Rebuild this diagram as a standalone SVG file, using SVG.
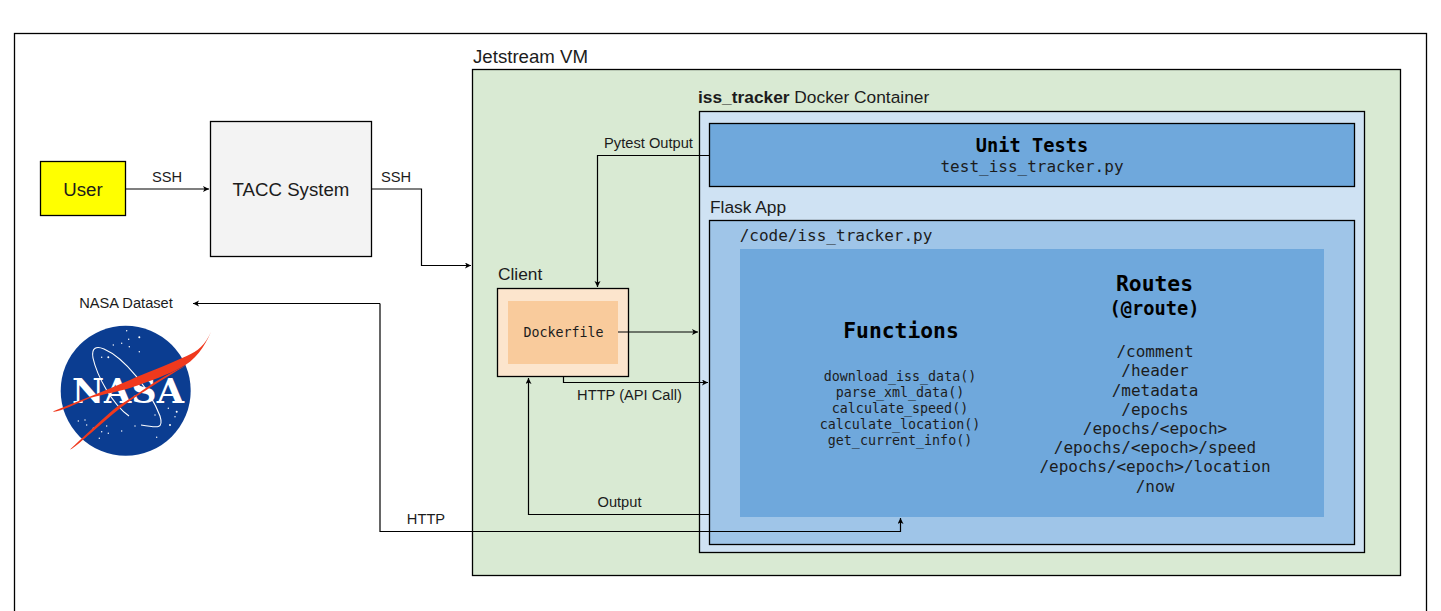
<svg xmlns="http://www.w3.org/2000/svg" width="1441" height="611" viewBox="0 0 1441 611">
<style>
.s{stroke:#000;stroke-width:1.3}
.l{font-family:"Liberation Sans",Arial,sans-serif;fill:#1c1c1c}
.m{font-family:"DejaVu Sans Mono","Liberation Mono",monospace;fill:#1c1c1c;text-anchor:middle}
.b{font-weight:bold;fill:#000}
.c{fill:none;stroke:#000;stroke-width:1.2}
</style>
<defs>
<marker id="a" markerWidth="8" markerHeight="8" refX="6" refY="3" orient="auto" markerUnits="userSpaceOnUse"><path d="M0 0L6 3L0 6L1.500 3Z" fill="#000"/></marker>
</defs>
<rect width="1441" height="611" fill="#fff"/>
<rect id="frame" x="14.500" y="33.500" width="1412" height="590" fill="#fff" class="s"/>
<g id="jetstream">
<text x="473" y="62.500" class="l" font-size="18.670">Jetstream VM</text>
<rect x="472.500" y="69.500" width="928" height="506" fill="#d9ead3" class="s"/>
</g>
<g id="user"><rect x="40.500" y="161.500" width="85" height="54" fill="#ffff00" class="s"/>
<text x="83" y="196" class="l" font-size="18.670" text-anchor="middle">User</text></g>
<g id="tacc"><rect x="210.500" y="121.500" width="161" height="135" fill="#f3f3f3" class="s"/>
<text x="291" y="196" class="l" font-size="18.670" text-anchor="middle">TACC System</text></g>
<g id="docker">
<text x="698" y="103" class="l" font-size="17.330"><tspan font-weight="bold">iss_tracker</tspan> Docker Container</text>
<rect x="699.500" y="111.500" width="665" height="441" fill="#cfe2f3" class="s"/>
</g>
<g id="unit-tests"><rect x="709.500" y="123.500" width="645" height="63" fill="#6fa8dc" class="s"/>
<text x="1032" y="152" class="m b" font-size="18.670">Unit Tests</text>
<text x="1032" y="172" class="m" font-size="16">test_iss_tracker.py</text></g>
<g id="flask">
<text x="710" y="212.500" class="l" font-size="17.330">Flask App</text>
<rect x="709.500" y="220.500" width="645" height="324" fill="#9fc5e8" class="s"/>
<text x="836" y="241" class="m" font-size="16">/code/iss_tracker.py</text>
<rect x="740" y="249" width="584" height="268" fill="#6fa8dc"/>
</g>
<g id="functions">
<text x="901" y="338" class="m b" font-size="21.330">Functions</text>
<text class="m" font-size="13.330"><tspan x="900" y="381">download_iss_data()</tspan><tspan x="900" y="397">parse_xml_data()</tspan><tspan x="900" y="413">calculate_speed()</tspan><tspan x="900" y="429">calculate_location()</tspan><tspan x="900" y="445">get_current_info()</tspan></text>
</g>
<g id="routes">
<text x="1154.500" y="291" class="m b" font-size="21.330">Routes</text>
<text x="1154.500" y="315" class="m b" font-size="18.670">(@route)</text>
<text class="m" font-size="16"><tspan x="1155" y="357">/comment</tspan><tspan x="1155" y="376">/header</tspan><tspan x="1155" y="395.500">/metadata</tspan><tspan x="1155" y="414.500">/epochs</tspan><tspan x="1155" y="434">/epochs/&lt;epoch&gt;</tspan><tspan x="1155" y="453">/epochs/&lt;epoch&gt;/speed</tspan><tspan x="1155" y="472">/epochs/&lt;epoch&gt;/location</tspan><tspan x="1155" y="491.500">/now</tspan></text>
</g>
<g id="client">
<text x="498" y="280" class="l" font-size="17.330">Client</text>
<rect x="497.500" y="288.500" width="131" height="88" fill="#fce5cd" class="s"/>
<rect x="508" y="301" width="110" height="63" fill="#f9cb9c"/>
<text x="563.500" y="337" class="m" font-size="13.330">Dockerfile</text>
</g>
<g id="nasa-dataset"><text x="126" y="308" class="l" font-size="14.670" text-anchor="middle">NASA Dataset</text></g>
<g id="nasa-logo">
<circle cx="125.700" cy="390.700" r="65" fill="#0b3d91"/>
<g fill="#fff"><circle cx="126.700" cy="330.700" r=".7"/><circle cx="139.300" cy="337.300" r="1"/><circle cx="128.700" cy="339.300" r=".7"/><circle cx="121.700" cy="343.300" r=".7"/><circle cx="113.300" cy="345" r=".7"/><circle cx="129.300" cy="346.700" r=".7"/><circle cx="139.300" cy="351.700" r=".7"/><circle cx="108.300" cy="357.300" r="1"/><circle cx="101.700" cy="357.300" r=".7"/><circle cx="168.300" cy="408.300" r=".7"/><circle cx="176.700" cy="411.700" r="1"/><circle cx="175" cy="416.700" r=".7"/><circle cx="170" cy="425" r="1"/><circle cx="155" cy="415" r=".7"/><circle cx="78.300" cy="421" r=".7"/><circle cx="85" cy="420" r=".7"/><circle cx="86.700" cy="425" r=".7"/><circle cx="93.300" cy="428.300" r=".7"/><circle cx="106.700" cy="426" r=".7"/><circle cx="101.700" cy="431.700" r=".7"/><circle cx="108.300" cy="433.300" r=".7"/><circle cx="121.700" cy="431" r=".7"/><circle cx="135" cy="426" r=".7"/><circle cx="156.700" cy="437.300" r=".7"/><circle cx="99.300" cy="438.300" r=".7"/></g>
<path d="M129 416C112 404 97 376 93 358C91 347 97 346 104 349C125 358 150 390 160 416C164 429 158 428 141 425" fill="none" stroke="#fff" stroke-width="1.100"/>
<text x="128" y="403" font-family="'DejaVu Serif','Liberation Serif',serif" font-weight="bold" font-size="34" fill="#fff" text-anchor="middle" textLength="112" lengthAdjust="spacingAndGlyphs">NASA</text>
<path d="M211 331.700C205 345 198 351 186.700 356C165 366 145 373 130 380C105 391 78 401 52.700 411.500C58 413 75 404 90 398C105 394 120 391 130 388C150 381 170 374 180 368C195 361 205 346 211 331.700Z" fill="#f0391d"/>
<path d="M186.700 365C165 375 150 385 143 390C130 399 120 404 113 410C95 426 82 438 70 449.500C72 450 85 438 113 414C125 404 135 397 145 391C160 381 175 372 186.700 365Z" fill="#f0391d"/>
</g>
<g id="connectors">
<path class="c" d="M126 189H209" marker-end="url(#a)"/>
<path class="c" d="M372 189H421.500V265.500H471" marker-end="url(#a)"/>
<path class="c" d="M709 155.500H597.500V287" marker-end="url(#a)"/>
<path class="c" d="M618 332H698" marker-end="url(#a)"/>
<path class="c" d="M563.500 377V382.500H708" marker-end="url(#a)"/>
<path class="c" d="M709 514.500H528.500V378" marker-end="url(#a)"/>
<path class="c" d="M380 303.500H193" marker-end="url(#a)"/>
<path class="c" d="M380 303.500V531.500H900.500V518" marker-end="url(#a)"/>
</g>
<g id="connector-labels" class="l" font-size="14.670">
<text x="167" y="182" text-anchor="middle">SSH</text>
<text x="396" y="182" text-anchor="middle">SSH</text>
<text x="648.500" y="148" text-anchor="middle">Pytest Output</text>
<text x="629.500" y="400" text-anchor="middle">HTTP (API Call)</text>
<text x="619.500" y="507" text-anchor="middle">Output</text>
<text x="426" y="524" text-anchor="middle">HTTP</text>
</g>
</svg>
